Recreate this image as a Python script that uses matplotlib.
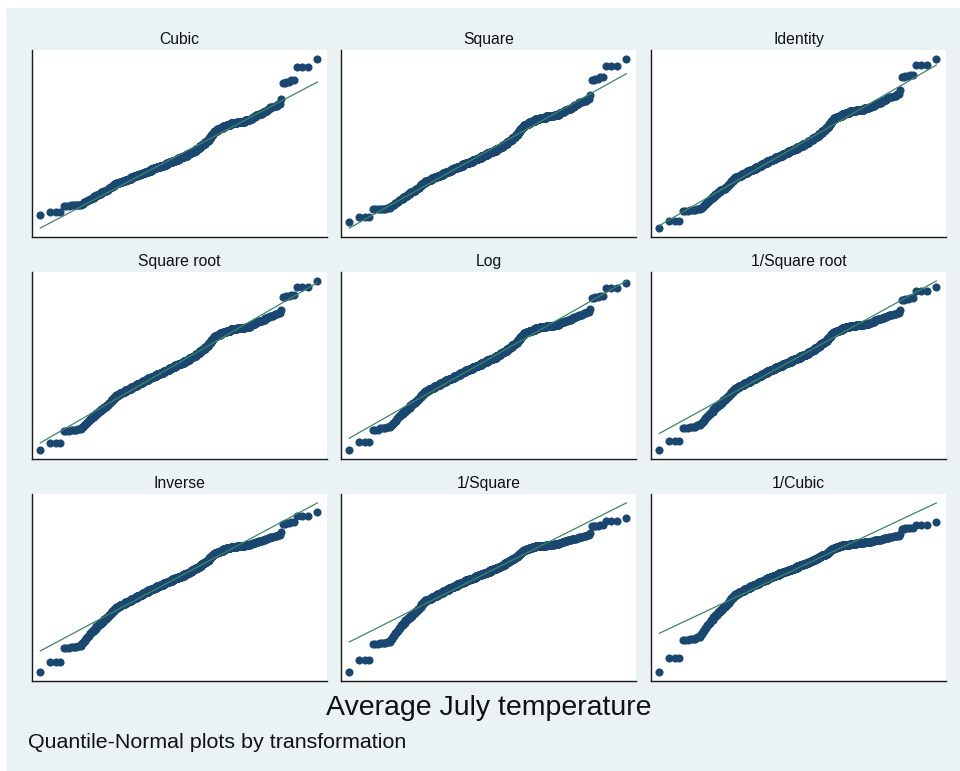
import numpy as np
import matplotlib
matplotlib.use("Agg")
import matplotlib.pyplot as plt
from matplotlib.patches import Rectangle
from statistics import NormalDist

plt.rcParams['font.family'] = ['Liberation Sans', 'DejaVu Sans']

# Average July temperature (deg F): distinct values and their frequencies
temp_values = [58.1, 59.5, 61.6, 61.8, 62.0, 62.4, 62.8, 63.2, 63.6, 64.0, 64.4, 64.8,
               65.2, 65.6, 66.0, 66.4, 66.8, 67.2, 67.6, 68.0, 68.4, 68.8, 69.1, 69.4,
               69.7, 70.0, 70.3, 70.6, 70.9, 71.2, 71.5, 71.8, 72.1, 72.4, 72.7, 73.0,
               73.3, 73.6, 73.9, 74.2, 74.5, 74.8, 75.1, 75.4, 75.7, 76.0, 76.3, 76.6,
               76.9, 77.2, 77.5, 77.8, 78.1, 78.4, 78.7, 79.0, 79.3, 79.6, 79.9, 80.2,
               80.5, 80.8, 81.1, 81.4, 81.7, 82.0, 82.3, 82.6, 82.9, 83.2, 83.5, 83.8,
               84.1, 84.4, 84.7, 85.0, 85.3, 85.6, 85.9, 86.2, 87.0, 89.8, 90.0, 90.3,
               92.3, 93.6]
temp_counts = [1, 3, 3, 4, 3, 2, 2, 2, 2, 3, 3, 3,
               4, 5, 5, 6, 5, 5, 5, 6, 6, 11, 11, 11,
               13, 14, 14, 14, 17, 17, 17, 19, 20, 20, 20, 27,
               27, 24, 24, 24, 24, 25, 25, 25, 25, 20, 17, 17,
               17, 17, 13, 13, 13, 12, 12, 12, 7, 7, 7, 7,
               7, 7, 16, 16, 16, 16, 20, 26, 26, 13, 6, 6,
               6, 6, 4, 3, 3, 4, 3, 2, 1, 2, 2, 2,
               3, 1]

panel_titles = ["Cubic", "Square", "Identity",
                "Square root", "Log", "1/Square root",
                "Inverse", "1/Square", "1/Cubic"]
panel_powers = [3, 2, 1, 0.5, 0, -0.5, -1, -2, -3]

main_title = "Average July temperature"
sub_title = "Quantile-Normal plots by transformation"


def ladder(v, p):
    if p == 0:
        return np.log(v)
    if p > 0:
        return v ** p
    return -(v ** p)


temps = np.sort(np.repeat(np.array(temp_values, dtype=float), temp_counts))
n = temps.size
nd = NormalDist()
zq = np.array([nd.inv_cdf(i / (n + 1)) for i in range(1, n + 1)])

W, H = 960, 771
fig = plt.figure(figsize=(W / 100, H / 100), dpi=100)
fig.patch.set_facecolor('white')
fig.patches.append(Rectangle((6 / W, 0), 1 - 6 / W, 1 - 8 / H, transform=fig.transFigure,
                             facecolor='#EAF2F3', edgecolor='none', zorder=-10))

col_left = [32, 341, 651]
row_top = [50, 272, 494]
pw, ph = 295, 187

navy = '#1A476F'
line_col = '#3F8569'

for k, (title, p) in enumerate(zip(panel_titles, panel_powers)):
    r, c = divmod(k, 3)
    ax = fig.add_axes([col_left[c] / W, (H - row_top[r] - ph) / H, pw / W, ph / H])
    t = ladder(temps, p)
    xq = t.mean() + t.std(ddof=1) * zq
    ax.scatter(xq, t, s=34, color=navy, linewidths=0, zorder=2)
    ax.plot([xq.min(), xq.max()], [xq.min(), xq.max()], color=line_col, lw=0.9, zorder=3)
    xr = xq.max() - xq.min()
    ax.set_xlim(xq.min() - 0.03 * xr, xq.max() + 0.035 * xr)
    lo = min(t.min(), xq.min())
    hi = max(t.max(), xq.max())
    yr = hi - lo
    ax.set_ylim(lo - 0.053 * yr, hi + 0.053 * yr)
    ax.set_xticks([])
    ax.set_yticks([])
    for s in ['top', 'right']:
        ax.spines[s].set_visible(False)
    for s in ['left', 'bottom']:
        ax.spines[s].set_color('#1a1a1a')
        ax.spines[s].set_linewidth(1.0)
    ax.set_facecolor('white')
    ax.set_title(title, fontsize=11.3, pad=4, color='#111111')

fig.text(489 / W, 56 / H, main_title, ha='center', va='baseline', fontsize=20.5, color='#111111')
fig.text(28 / W, 22.5 / H, sub_title, ha='left', va='baseline', fontsize=15.4, color='#111111')

fig.savefig('out.png', dpi=100, facecolor=fig.get_facecolor())
